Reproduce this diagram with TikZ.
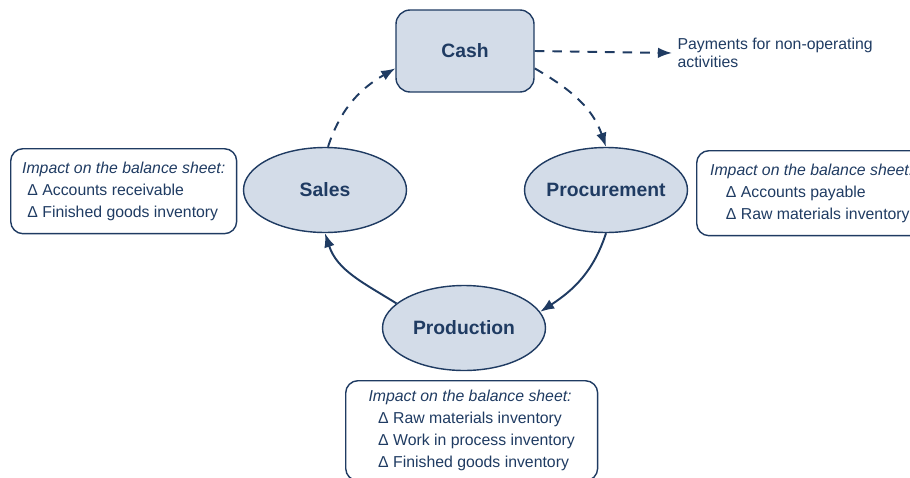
\documentclass[tikz,border=0pt]{standalone}
\usepackage{fontspec}
\setmainfont{Liberation Sans}
\usetikzlibrary{shapes.geometric,arrows.meta}

\definecolor{navy}{HTML}{1F3B62}
\definecolor{paleblue}{HTML}{D3DCE8}

\tikzset{
	stage/.style={ellipse,draw=navy,fill=paleblue,line width=0.8pt,minimum width=3.26cm,minimum height=1.7cm,text=navy,font=\fontsize{11}{13}\selectfont\bfseries},
	impact/.style={draw=navy,line width=0.8pt,rounded corners=7pt,align=left,anchor=north west,text=navy,font=\fontsize{9}{12.5}\selectfont},
	flow/.style={navy,line width=1.1pt,-{Latex[length=8pt,width=6pt]}},
	flowdash/.style={flow,dash pattern=on 5.5pt off 4.5pt}
}

\begin{document}
\begin{tikzpicture}[x=0.02cm,y=-0.02cm]
	\useasboundingbox (0,0) rectangle (910,477);
	\clip (0,0) rectangle (910,477);
		%cycle stages
			\node[draw=navy,fill=paleblue,line width=0.8pt,rounded corners=8pt,minimum width=2.76cm,minimum height=1.64cm,text=navy,font=\fontsize{11}{13}\selectfont\bfseries] (cash) at (465,51) {Cash};
			\node[stage] (sales) at (325,190) {Sales};
			\node[stage,inner xsep=-2pt] (proc) at (606,190) {Procurement};
			\node[stage] (prod) at (464,328) {Production};
		%balance sheet boxes
			\node[impact,minimum width=4.52cm,minimum height=1.7cm] (salesbs) at (10,148) {\textit{Impact on the balance sheet:}\\\hspace*{3pt}Δ Accounts receivable\\\hspace*{3pt}Δ Finished goods inventory};
			\node[impact,minimum width=4.6cm,minimum height=1.7cm] (procbs) at (696,150) {\textit{Impact on the balance sheet:}\\\hspace*{9pt}Δ Accounts payable\\\hspace*{9pt}Δ Raw materials inventory};
			\node[impact,minimum width=5.04cm,minimum height=2cm] (prodbs) at (345,380) {\textit{Impact on the balance sheet:}\\\hspace*{5.5pt}Δ Raw materials inventory\\\hspace*{5.5pt}Δ Work in process inventory\\\hspace*{5.5pt}Δ Finished goods inventory};
			\node[anchor=west,align=left,text=navy,font=\fontsize{9}{10.5}\selectfont,inner sep=3pt] (payout) at (672,53) {Payments for non-operating\\activities};
		%arrows
			\draw[flowdash] (cash.east) -- (payout.west);
			\draw[flowdash] (sales.86) to[out=72,in=210] (cash.194);
			\draw[flowdash] (cash.-14) to[out=-30,in=109] (proc.north);
			\draw[flow] (proc.south) to[out=252,in=33] (prod.12);
			\draw[flow] (prod.160) to[out=148,in=288] (sales.south);
	\end{tikzpicture}
\end{document}
